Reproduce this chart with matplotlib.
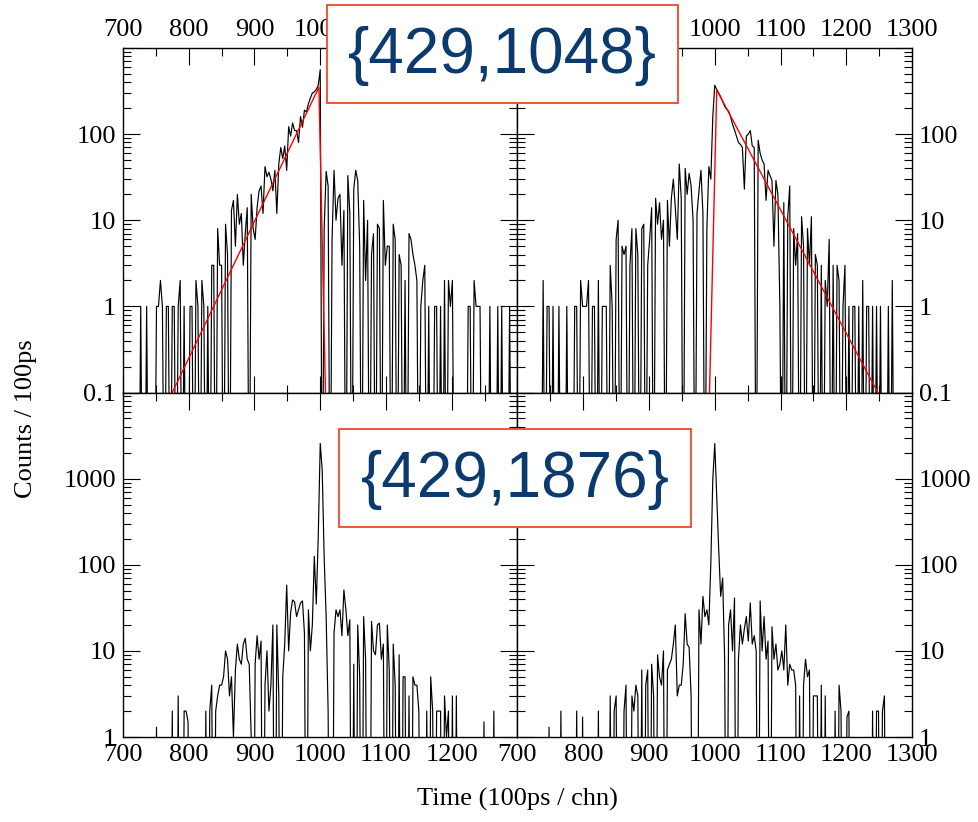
import numpy as np
import matplotlib.pyplot as plt
from matplotlib.patches import Rectangle
from matplotlib.ticker import FixedLocator, FixedFormatter, LogLocator, MultipleLocator, NullFormatter

# channel of each (3-channel) bin
chan = np.arange(700, 1300, 3)

# counts per bin (rows of 20 bins = 60 channels)
counts_tl = [
    0, 0, 0, 0, 0, 0, 0, 0, 0, 1, 0, 0, 1, 0, 0, 0, 0, 1, 1, 2,
    1, 0, 1, 1, 0, 1, 1, 0, 1, 2, 0, 1, 0, 0, 1, 1, 0, 2, 1, 0,
    2, 1, 0, 1, 0, 3, 3, 0, 8, 3, 3, 0, 9, 4, 0, 13, 17, 5, 20, 9,
    12, 3, 7, 14, 0, 20, 8, 6, 14, 22, 25, 12, 42, 32, 36, 30, 22, 38, 12, 45,
    70, 52, 73, 38, 122, 95, 135, 110, 110, 80, 160, 120, 190, 180, 225, 262, 300, 310, 330, 370,
    560, 0, 8, 37, 25, 0, 6, 38, 10, 18, 20, 3, 13, 0, 33, 12, 0, 23, 38, 29,
    5, 0, 17, 2, 10, 0, 4, 7, 0, 9, 8, 0, 17, 3, 5, 5, 0, 9, 6, 0,
    4, 3, 0, 2, 0, 7, 6, 4, 3, 2, 0, 1, 2, 3, 0, 1, 0, 0, 1, 1,
    0, 1, 0, 2, 0, 2, 1, 2, 0, 0, 0, 0, 0, 0, 0, 1, 1, 0, 2, 1,
    1, 1, 0, 0, 0, 0, 1, 0, 0, 0, 1, 0, 1, 0, 0, 0, 1, 0, 0, 0,
]
counts_tr = [
    0, 0, 0, 0, 0, 0, 0, 0, 0, 0, 0, 0, 0, 2, 0, 1, 1, 0, 1, 0,
    0, 1, 0, 0, 0, 1, 0, 0, 0, 1, 1, 0, 2, 1, 1, 1, 2, 0, 1, 1,
    0, 2, 0, 1, 1, 1, 0, 3, 1, 0, 6, 10, 0, 5, 4, 5, 0, 3, 8, 0,
    8, 4, 0, 8, 9, 0, 3, 6, 14, 0, 18, 9, 16, 6, 10, 0, 17, 5, 18, 30,
    14, 6, 45, 18, 0, 40, 20, 35, 25, 10, 0, 12, 22, 38, 12, 0, 8, 42, 30, 160,
    370, 330, 300, 272, 240, 210, 195, 185, 160, 130, 112, 95, 80, 76, 70, 23, 95, 100, 110, 73,
    70, 0, 85, 60, 50, 45, 17, 38, 33, 29, 5, 29, 20, 1, 0, 16, 0, 11, 25, 0,
    8, 3, 7, 0, 11, 5, 0, 8, 3, 11, 0, 4, 3, 0, 3, 0, 2, 1, 6, 0,
    3, 0, 3, 2, 0, 1, 3, 0, 1, 0, 1, 1, 0, 1, 0, 2, 0, 1, 1, 0,
    1, 0, 1, 0, 1, 0, 0, 0, 1, 0, 2, 0, 0, 0, 0, 0, 0, 0, 0, 0,
]
counts_bl = [
    0, 0, 0, 0, 0, 0, 0, 0, 0, 0, 0, 0, 0, 0, 0, 0, 0, 1.3, 0, 0,
    0, 0, 0, 0, 0, 2, 0, 0, 3, 0, 0, 2, 2, 1.5, 0, 0, 0, 0, 0, 0,
    0, 0, 2, 0, 2, 4, 0, 2, 3, 4, 4, 5, 10, 8, 3, 5, 1, 6, 12, 8,
    7, 12, 14, 8, 7, 1, 0, 7, 15, 8, 13, 0, 4, 10, 2, 4, 20, 0, 20, 3,
    0, 5, 12, 58, 10, 28, 39, 37, 25, 30, 36, 38, 16, 0, 30, 10, 20, 125, 35, 214,
    2560, 1270, 120, 25, 2, 0, 0, 16, 30, 25, 30, 15, 51, 30, 15, 23, 0, 7, 0, 20,
    5, 0, 25, 8, 0, 0, 22, 10, 9, 20, 21, 8, 12, 0, 20, 6, 0, 12, 4, 0,
    9, 0, 5, 5, 0, 3, 0, 5, 4, 4, 2, 0, 0, 0, 2, 0, 5, 2, 0, 2,
    2, 2, 0, 3, 1, 2, 0, 3, 0, 3, 0, 0, 0, 0, 0, 0, 0, 0, 0, 0,
    0, 0, 0, 1.5, 0, 0, 0, 0, 2, 0, 0, 0, 0, 0, 0, 0, 0, 0, 0, 0,
]
counts_br = [
    0, 0, 0, 0, 0, 0, 0, 0, 0, 0, 0, 0, 0, 0, 0, 0, 1.3, 0, 0, 0,
    0, 0, 2, 0, 0, 0, 0, 0, 0, 0, 2, 0, 0, 1.7, 0, 0, 0, 0, 0, 0,
    0, 2, 0, 0, 0, 0, 0, 3, 0, 2, 3, 0, 0, 0, 2, 4, 0, 0, 3, 2,
    4, 3, 0, 6, 0, 4, 6, 0, 7, 3, 0, 9, 5, 4, 10, 0, 6, 7, 8, 12,
    20, 3, 4, 4, 7, 27, 12, 11, 3, 0, 0, 0, 30, 12, 43, 25, 30, 20, 104, 980,
    2560, 620, 150, 43, 70, 8, 0, 20, 30, 10, 41, 0, 8, 20, 12, 18, 25, 13, 36, 12,
    15, 10, 0, 38, 10, 25, 8, 13, 0, 19, 8, 12, 6, 7, 10, 6, 20, 4, 7, 6,
    6, 4, 0, 3, 0, 4, 8, 5, 6, 0, 3, 3, 3, 0, 4, 0, 3, 0, 0, 0,
    0, 2, 0, 4, 2, 0, 0, 1.7, 2, 0, 0, 0, 0, 0, 0, 0, 0, 0, 0, 0,
    2, 0, 2, 2, 0, 2, 3, 0, 0, 0, 0, 0, 0, 0, 0, 0, 0, 0, 0, 0,
]

# exponential fits (straight on log scale)
fit_tl_x = [775, 998, 1008]
fit_tl_y = [0.1, 350, 0.1]
fit_tr_x = [992, 1003, 1248]
fit_tr_y = [0.1, 325, 0.1]

x_ticks = [700, 800, 900, 1000, 1100, 1200, 1300]
# top row: labels hidden behind the box are left out
x_labels_tl = ['700', '800', '900', '1000', '', '', '']
x_labels_tr = ['', '', '', '1000', '1100', '1200', '1300']
x_labels_bl = ['700', '800', '900', '1000', '1100', '1200', '']
x_labels_br = ['700', '800', '900', '1000', '1100', '1200', '1300']
y_ticks_top = [0.1, 1, 10, 100, 1000]
y_labels_top = ['0.1', '1', '10', '100', '']
y_ticks_bot = [1, 10, 100, 1000, 10000]
y_labels_bot = ['1', '10', '100', '1000', '']

plt.rcParams['font.family'] = ['Liberation Serif', 'DejaVu Serif']
plt.rcParams['font.size'] = 19

fig = plt.figure(figsize=(9.79, 8.22), dpi=100)
gs = fig.add_gridspec(2, 2, left=0.1256, right=0.9316, top=0.9416, bottom=0.1034,
                      hspace=0, wspace=0)


def draw_panel(ax, counts, yt, yl, xl, top_row, left_col, fit=None):
    c = np.array(counts, dtype=float)
    ax.plot(chan, np.where(c > 0, c, 1e-3), color='black', lw=0.85)
    if fit is not None:
        ax.plot(fit[0], fit[1], color='red', lw=1.0, zorder=3)
    ax.set_yscale('log')
    ax.set_xlim(700, 1300)
    ax.set_ylim(yt[0], yt[-1])
    ax.xaxis.set_major_locator(FixedLocator(x_ticks))
    ax.xaxis.set_major_formatter(FixedFormatter(xl))
    ax.xaxis.set_minor_locator(MultipleLocator(50))
    ax.yaxis.set_major_locator(FixedLocator(yt))
    ax.yaxis.set_major_formatter(FixedFormatter(yl))
    ax.yaxis.set_minor_locator(LogLocator(base=10, subs=np.arange(2, 10), numticks=50))
    ax.yaxis.set_minor_formatter(NullFormatter())
    ax.tick_params(which='both', direction='in', top=True, bottom=True, left=True, right=True,
                   labeltop=top_row, labelbottom=not top_row,
                   labelleft=left_col, labelright=not left_col, width=0.8)
    ax.tick_params(which='major', length=12, pad=5)
    ax.tick_params(which='minor', length=6)
    if not top_row:
        # the outer bottom edge carries hardly visible ticks
        ax.tick_params(axis='x', which='both', bottom=False)
    for s in ax.spines.values():
        s.set_linewidth(1.0)


ax_tl = fig.add_subplot(gs[0, 0])
ax_tr = fig.add_subplot(gs[0, 1])
ax_bl = fig.add_subplot(gs[1, 0])
ax_br = fig.add_subplot(gs[1, 1])

draw_panel(ax_tl, counts_tl, y_ticks_top, y_labels_top, x_labels_tl, True, True, (fit_tl_x, fit_tl_y))
draw_panel(ax_tr, counts_tr, y_ticks_top, y_labels_top, x_labels_tr, True, False, (fit_tr_x, fit_tr_y))
draw_panel(ax_bl, counts_bl, y_ticks_bot, y_labels_bot, x_labels_bl, False, True)
draw_panel(ax_br, counts_br, y_ticks_bot, y_labels_bot, x_labels_br, False, False)

fig.text(0.027, 0.491, 'Counts / 100ps', rotation=90, ha='center', va='center', fontsize=19)
fig.text(0.529, 0.027, 'Time (100ps / chn)', ha='center', va='center', fontsize=19)

# labelled boxes
box_color = '#f0462a'
txt_color = '#0b3a6e'
fig.add_artist(Rectangle((327 / 979, 1 - 103 / 822), 351 / 979, 98 / 822, transform=fig.transFigure,
                         facecolor='white', edgecolor=box_color, lw=1.3, zorder=5))
fig.text(502.5 / 979, 1 - 56 / 822, '{429,1048}', ha='center', va='center', fontsize=46,
         color=txt_color, family='Liberation Sans', zorder=6)
fig.add_artist(Rectangle((339 / 979, 1 - 527 / 822), 352 / 979, 98 / 822, transform=fig.transFigure,
                         facecolor='white', edgecolor=box_color, lw=1.3, zorder=5))
fig.text(515 / 979, 1 - 480 / 822, '{429,1876}', ha='center', va='center', fontsize=46,
         color=txt_color, family='Liberation Sans', zorder=6)

fig.savefig('out.png', dpi=100)
